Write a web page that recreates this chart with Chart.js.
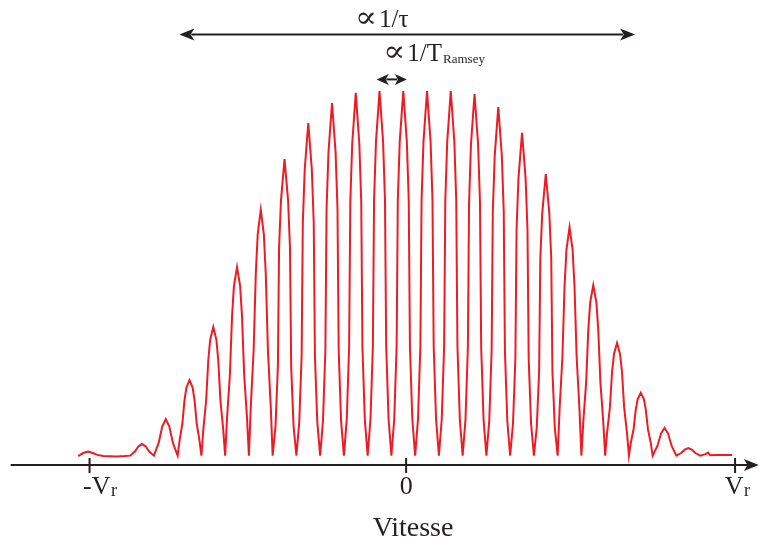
<!DOCTYPE html>
<html>
<head>
<meta charset="utf-8">
<script src="https://cdn.jsdelivr.net/npm/chart.js@4/dist/chart.umd.min.js"></script>
<style>
  html, body { margin: 0; padding: 0; background: #fff; }
</style>
</head>
<body>
<canvas id="fringeChart" width="760" height="541"></canvas>
<script>
// velocity in units of the fringe period (1/T_Ramsey), signal in % of the tallest fringe
const velocity = [
  -13.81, -13.6, -13.39, -13.2, -13.0, -12.75, -12.2, -11.85,
  -11.62, -11.42, -11.27, -11.12, -10.97, -10.82,
  -10.62, -10.42, -10.27, -10.12, -9.97, -9.82,
  -9.62, -9.54, -9.42, -9.33, -9.25, -9.12, -8.99, -8.91, -8.82, -8.70,
  -8.62, -8.54, -8.42, -8.33, -8.25, -8.12, -7.99, -7.91, -7.82, -7.70,
  -7.62, -7.54, -7.42, -7.33, -7.25, -7.12, -6.99, -6.91, -6.82, -6.70,
  -6.62, -6.54, -6.42, -6.33, -6.25, -6.12, -5.99, -5.91, -5.82, -5.70,
  -5.62, -5.50, -5.40, -5.35, -5.27, -5.12, -4.97, -4.89, -4.84, -4.74,
  -4.62, -4.50, -4.40, -4.35, -4.27, -4.12, -3.97, -3.89, -3.84, -3.74,
  -3.62, -3.50, -3.40, -3.35, -3.27, -3.12, -2.97, -2.89, -2.84, -2.74,
  -2.62, -2.50, -2.40, -2.35, -2.27, -2.12, -1.97, -1.89, -1.84, -1.74,
  -1.62, -1.50, -1.40, -1.35, -1.27, -1.12, -0.97, -0.89, -0.84, -0.74,
  -0.62, -0.50, -0.40, -0.35, -0.27, -0.12, 0.03, 0.11, 0.16, 0.26,
  0.38, 0.50, 0.60, 0.65, 0.73, 0.88, 1.03, 1.11, 1.16, 1.26,
  1.38, 1.50, 1.60, 1.65, 1.73, 1.88, 2.03, 2.11, 2.16, 2.26,
  2.38, 2.50, 2.60, 2.65, 2.73, 2.88, 3.03, 3.11, 3.16, 3.26,
  3.38, 3.50, 3.60, 3.65, 3.73, 3.88, 4.03, 4.11, 4.16, 4.26,
  4.38, 4.50, 4.60, 4.65, 4.73, 4.88, 5.03, 5.11, 5.16, 5.26,
  5.38, 5.50, 5.60, 5.65, 5.73, 5.88, 6.03, 6.11, 6.16, 6.26,
  6.38, 6.46, 6.58, 6.67, 6.75, 6.88, 7.01, 7.09, 7.18, 7.30,
  7.38, 7.46, 7.58, 7.67, 7.75, 7.88, 8.01, 8.09, 8.18, 8.30,
  8.38, 8.46, 8.58, 8.67, 8.75, 8.88, 9.01, 9.09, 9.18, 9.30,
  9.38, 9.46, 9.58, 9.67, 9.75, 9.88, 10.01, 10.09, 10.18, 10.30,
  10.38, 10.58, 10.73, 10.88, 11.03, 11.18,
  11.38, 11.58, 11.73, 11.88, 12.03, 12.18,
  12.38, 12.6, 12.72, 12.8, 13.0, 13.73
];
const signal = [
  2.4, 3.2, 3.6, 3.2, 2.7, 2.4, 2.3, 2.4,
  2.5, 3.6, 5.0, 5.6, 5.0, 3.6,
  2.5, 5.9, 10.3, 12.3, 10.3, 5.9,
  2.5, 6.5, 11.2, 17.4, 20.7, 22.7, 20.7, 17.4, 11.2, 6.5,
  2.5, 9.4, 17.3, 28.0, 33.5, 36.9, 33.5, 28.0, 17.3, 9.4,
  2.5, 12.6, 24.2, 39.8, 47.9, 52.9, 47.9, 39.8, 24.2, 12.6,
  2.5, 15.6, 30.8, 51.1, 61.6, 68.2, 61.6, 51.1, 30.8, 15.6,
  2.5, 10.4, 26.3, 58.0, 70.7, 81.8, 70.7, 58.0, 26.3, 10.4,
  2.5, 11.4, 29.2, 64.7, 79.0, 91.4, 79.0, 64.7, 29.2, 11.4,
  2.5, 11.9, 30.8, 68.5, 83.6, 96.8, 83.6, 68.5, 30.8, 11.9,
  2.5, 12.2, 31.6, 70.4, 85.9, 99.5, 85.9, 70.4, 31.6, 12.2,
  2.5, 12.3, 31.8, 70.8, 86.4, 100, 86.4, 70.8, 31.8, 12.3,
  2.5, 12.3, 31.8, 70.8, 86.4, 100, 86.4, 70.8, 31.8, 12.3,
  2.5, 12.3, 31.8, 70.8, 86.4, 100, 86.4, 70.8, 31.8, 12.3,
  2.5, 12.3, 31.8, 70.8, 86.4, 100, 86.4, 70.8, 31.8, 12.3,
  2.5, 12.2, 31.5, 70.2, 85.7, 99.2, 85.7, 70.2, 31.5, 12.2,
  2.5, 11.8, 30.5, 67.7, 82.7, 95.7, 82.7, 67.7, 30.5, 11.8,
  2.5, 11.1, 28.4, 62.9, 76.7, 88.8, 76.7, 62.9, 28.4, 11.1,
  2.5, 10.0, 25.1, 55.2, 67.3, 77.8, 67.3, 55.2, 25.1, 10.0,
  2.5, 14.7, 28.8, 47.7, 57.5, 63.6, 57.5, 47.7, 28.8, 14.7,
  2.5, 11.6, 22.1, 36.2, 43.5, 48.1, 43.5, 36.2, 22.1, 11.6,
  2.5, 8.5, 15.4, 24.8, 29.6, 32.6, 29.6, 24.8, 15.4, 8.5,
  2.5, 5.9, 9.7, 14.9, 17.6, 19.3, 17.6, 14.9, 9.7, 5.9,
  2.5, 5.1, 8.4, 9.9, 8.4, 5.1,
  2.5, 3.2, 4.1, 4.5, 4.1, 3.2,
  2.5, 2.9, 3.3, 2.6, 2.7, 2.7
];

const tickValues = [-13.33, 0, 13.85];
const tickLabels = ["-V", "0", "V"];
const tickSubs = ["r", "", "r"];
const axisTitle = "Vitesse";

// arrows above the curve: [from, to] in velocity units
const envelopeSpan = [-9.55, 9.64];
const ramseySpan = [-1.24, 0.03];
const propSign = "\u221D";
const envelopeLabel = "1/\u03C4";
const ramseyLabel = "1/T";
const ramseySub = "Ramsey";

const ink = "#231f20";
const serif = '"Liberation Serif", "DejaVu Serif", serif';

function arrowHead(ctx, tx, ty, dir, len, half) {
  ctx.beginPath();
  ctx.moveTo(tx, ty);
  ctx.lineTo(tx - dir * len, ty - half);
  ctx.lineTo(tx - dir * len * 0.75, ty);
  ctx.lineTo(tx - dir * len, ty + half);
  ctx.closePath();
  ctx.fill();
}

function doubleArrow(ctx, x1, x2, yy, len, half) {
  ctx.beginPath();
  ctx.moveTo(x1 + len * 0.8, yy);
  ctx.lineTo(x2 - len * 0.8, yy);
  ctx.stroke();
  arrowHead(ctx, x1, yy, -1, len, half);
  arrowHead(ctx, x2, yy, 1, len, half);
}

// "∝" stretched wider like the original symbol font, then the rest; returns right edge
function propText(ctx, text, left, base, size) {
  ctx.font = size + "px " + serif;
  const sw = ctx.measureText(propSign).width;
  ctx.save();
  ctx.translate(left, base);
  ctx.scale(1.3, 1.2);
  ctx.fillText(propSign, 0, 0);
  ctx.restore();
  const x2 = left + sw * 1.3 + 2;
  ctx.fillText(text, x2, base);
  return x2 + ctx.measureText(text).width;
}

const decorations = {
  id: "decorations",
  afterDraw(chart) {
    const ctx = chart.ctx;
    const xs = chart.scales.x;
    const ys = chart.scales.y;
    const y0 = ys.getPixelForValue(0);
    ctx.save();
    ctx.strokeStyle = ink;
    ctx.fillStyle = ink;
    ctx.lineWidth = 2;

    // velocity axis with arrow
    const ax1 = xs.getPixelForValue(-16.65);
    const ax2 = xs.getPixelForValue(14.85);
    ctx.beginPath();
    ctx.moveTo(ax1, y0);
    ctx.lineTo(ax2 - 10, y0);
    ctx.stroke();
    arrowHead(ctx, ax2, y0, 1, 15, 6);

    // ticks and labels
    const labelShift = [-6.5, -6.5, -10.3];
    tickValues.forEach((v, i) => {
      const px = xs.getPixelForValue(v);
      ctx.beginPath();
      ctx.moveTo(px, y0 - 7);
      ctx.lineTo(px, y0 + 8);
      ctx.stroke();
      ctx.font = "26px " + serif;
      ctx.textAlign = "left";
      ctx.textBaseline = "alphabetic";
      const left = px + labelShift[i];
      ctx.fillText(tickLabels[i], left, y0 + 28.5);
      if (tickSubs[i]) {
        const w = ctx.measureText(tickLabels[i]).width;
        ctx.font = "18px " + serif;
        ctx.fillText(tickSubs[i], left + w + 0.5, y0 + 30.5);
      }
    });

    // axis title
    ctx.font = "28px " + serif;
    ctx.textAlign = "center";
    ctx.fillText(axisTitle, xs.getPixelForValue(0.29), y0 + 71);
    ctx.textAlign = "left";

    // envelope width arrow
    const ey = ys.getPixelForValue(115.1);
    doubleArrow(ctx, xs.getPixelForValue(envelopeSpan[0]), xs.getPixelForValue(envelopeSpan[1]), ey, 15, 6);
    propText(ctx, envelopeLabel, xs.getPixelForValue(-2.15), ys.getPixelForValue(117.1), 25);

    // fringe period arrow
    const ry = ys.getPixelForValue(103.1);
    doubleArrow(ctx, xs.getPixelForValue(ramseySpan[0]), xs.getPixelForValue(ramseySpan[1]), ry, 12, 5.5);
    const rb = ys.getPixelForValue(108.0);
    const rEnd = propText(ctx, ramseyLabel, xs.getPixelForValue(-0.96), rb, 25);
    ctx.font = "13px " + serif;
    ctx.fillText(ramseySub, rEnd + 1, rb + 2);
    ctx.restore();
  }
};

new Chart(document.getElementById("fringeChart"), {
  type: "line",
  data: {
    datasets: [
      {
        data: velocity.map((v, i) => ({ x: v, y: signal[i] })),
        borderColor: "#ed1c24",
        borderWidth: 2,
        pointRadius: 0,
        tension: 0,
        fill: false,
        clip: false,
      },
    ],
  },
  options: {
    responsive: false,
    animation: false,
    layout: { padding: { top: 91, bottom: 76, left: 0, right: 0 } },
    scales: {
      x: { type: "linear", min: -17.1, max: 14.9, display: false },
      y: { min: 0, max: 100, display: false },
    },
    plugins: {
      legend: { display: false },
      tooltip: { enabled: false },
    },
  },
  plugins: [decorations],
});
</script>
</body>
</html>
